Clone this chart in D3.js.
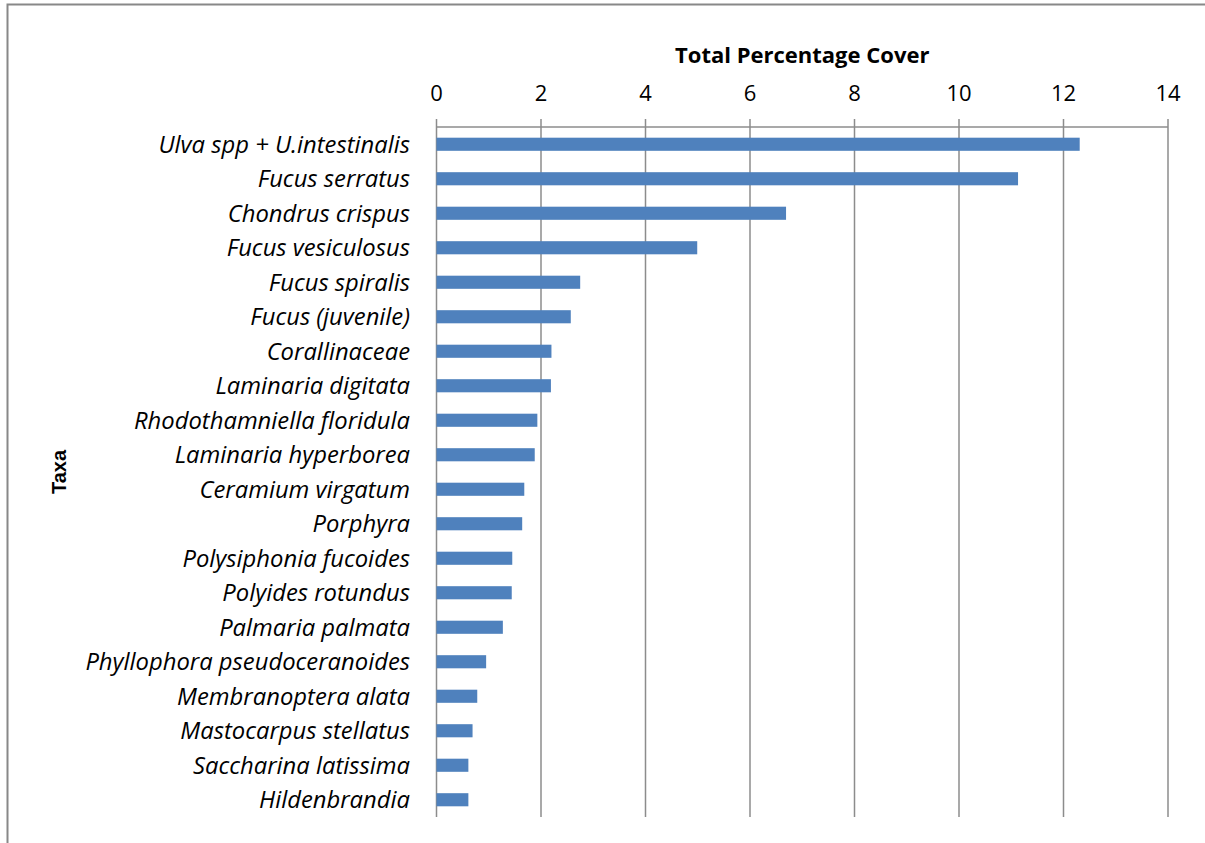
<!DOCTYPE html>
<html>
<head>
<meta charset="utf-8">
<script src="https://cdn.jsdelivr.net/npm/d3@7"></script>
<style>
  body { margin: 0; background: #fff; }
  svg { display: block; }
</style>
</head>
<body>
<div id="chart"></div>
<script>
const taxa = [
  "Ulva spp + U.intestinalis", "Fucus serratus", "Chondrus crispus", "Fucus vesiculosus",
  "Fucus spiralis", "Fucus (juvenile)", "Corallinaceae", "Laminaria digitata",
  "Rhodothamniella floridula", "Laminaria hyperborea", "Ceramium virgatum", "Porphyra",
  "Polysiphonia fucoides", "Polyides rotundus", "Palmaria palmata", "Phyllophora pseudoceranoides",
  "Membranoptera alata", "Mastocarpus stellatus", "Saccharina latissima", "Hildenbrandia"
];
const cover = [
  12.31, 11.13, 6.69, 4.99,
  2.75, 2.57, 2.20, 2.19,
  1.93, 1.88, 1.68, 1.64,
  1.45, 1.44, 1.27, 0.95,
  0.78, 0.69, 0.61, 0.61
];
const xTicks = [0, 2, 4, 6, 8, 10, 12, 14];

const W = 1205, H = 843;
const plotLeft = 436.5, plotRight = 1168, plotTop = 127, plotBottom = 817;
const font = "'Open Sans', Lato, sans-serif";

const svg = d3.select("#chart").append("svg").attr("width", W).attr("height", H);

// outer frame (only left and top edges visible)
svg.append("path")
  .attr("d", `M7.5,${H} L7.5,4.5 L${W},4.5`)
  .attr("fill", "none")
  .attr("stroke", "#888")
  .attr("stroke-width", 2);

const x = d3.scaleLinear().domain([0, 14]).range([plotLeft, plotRight]);
const y = d3.scaleBand().domain(taxa).range([plotTop, plotBottom]).paddingInner(0.62).paddingOuter(0.31);

// gridlines
svg.append("g")
  .selectAll("line")
  .data(xTicks)
  .enter()
  .append("line")
  .attr("x1", d => x(d))
  .attr("x2", d => x(d))
  .attr("y1", plotTop - 8)
  .attr("y2", plotBottom)
  .attr("stroke", "#8c8c8c")
  .attr("stroke-width", 1.5);

// top axis line
svg.append("line")
  .attr("x1", x(0)).attr("x2", x(14))
  .attr("y1", plotTop).attr("y2", plotTop)
  .attr("stroke", "#8c8c8c")
  .attr("stroke-width", 1.5);

// tick labels
svg.append("g")
  .selectAll("text")
  .data(xTicks)
  .enter()
  .append("text")
  .text(d => d)
  .attr("x", d => x(d))
  .attr("y", 101)
  .attr("text-anchor", "middle")
  .attr("font-family", font)
  .attr("font-size", 22)
  .attr("fill", "#000");

// bars
svg.append("g")
  .selectAll("rect")
  .data(taxa)
  .enter()
  .append("rect")
  .attr("x", x(0))
  .attr("y", d => y(d))
  .attr("width", (d, i) => x(cover[i]) - x(0))
  .attr("height", y.bandwidth())
  .attr("fill", "#4f81bd");

// category labels
svg.append("g")
  .selectAll("text")
  .data(taxa)
  .enter()
  .append("text")
  .text(d => d)
  .attr("x", 410)
  .attr("y", d => y(d) + y.bandwidth() / 2)
  .attr("dy", "0.36em")
  .attr("text-anchor", "end")
  .attr("font-family", font)
  .attr("font-style", "italic")
  .attr("font-size", 23.8)
  .attr("fill", "#000");

// axis titles
svg.append("text")
  .text("Total Percentage Cover")
  .attr("x", (plotLeft + plotRight) / 2)
  .attr("y", 63)
  .attr("text-anchor", "middle")
  .attr("font-family", font)
  .attr("font-weight", "bold")
  .attr("font-size", 22)
  .attr("fill", "#000");

svg.append("text")
  .text("Taxa")
  .attr("transform", `translate(66,${(plotTop + plotBottom) / 2}) rotate(-90)`)
  .attr("text-anchor", "middle")
  .attr("font-family", "'Liberation Sans', Arial, sans-serif")
  .attr("font-weight", "bold")
  .attr("font-size", 20)
  .attr("fill", "#000");
</script>
</body>
</html>
